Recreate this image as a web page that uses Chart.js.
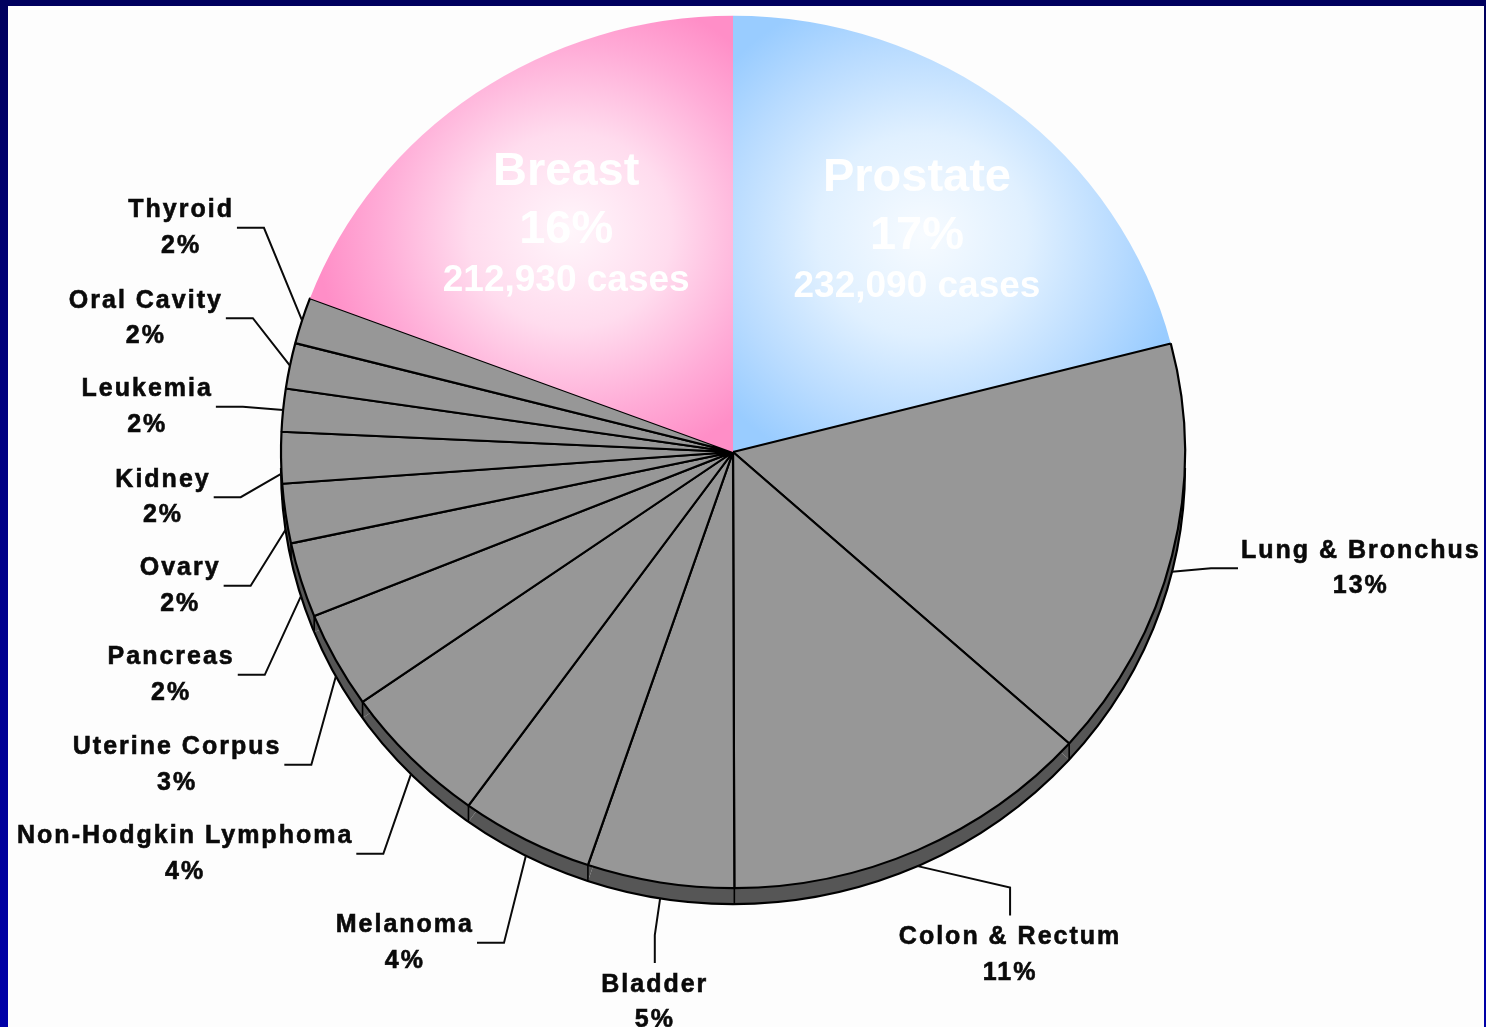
<!DOCTYPE html>
<html>
<head>
<meta charset="utf-8">
<script src="https://cdn.jsdelivr.net/npm/chart.js@4.4.1/dist/chart.umd.min.js"></script>
<style>
html,body{margin:0;padding:0;width:1486px;height:1027px;overflow:hidden;
  background:linear-gradient(to bottom,#00005e 0%,#000080 40%,#0000a8 100%);}
#wrap{position:absolute;left:8px;top:6px;width:1476px;height:1021px;background:#fdfdfd;}
</style>
</head>
<body>
<div id="wrap"><canvas id="c"></canvas></div>
<script>
// ---- data ----
const categories = ['Prostate','Lung & Bronchus','Colon & Rectum','Bladder','Melanoma',
  'Non-Hodgkin Lymphoma','Uterine Corpus','Pancreas','Ovary','Kidney','Leukemia',
  'Oral Cavity','Thyroid','Breast'];
const caseValues = [232090,173000,147000,58000,52500,59000,39500,30700,24300,21000,17500,18700,19000,212930];
const percentLabels = ['17%','13%','11%','5%','4%','4%','3%','2%','2%','2%','2%','2%','2%','16%'];
const highlightCategories = ['Breast','Prostate'];
const highlightCaseLabels = ['212,930 cases','232,090 cases'];

// ---- styling / geometry ----
const SY = 0.965, DEPTH = 16, RADIUS = 452;
const GRAY = '#979797', WALL = '#565656';
const gradSpec = {
  'Breast':   {dx:-0.36, dy:-0.49, rr:0.56, stops:[[0,'#fff6fb'],[0.4,'#ffdcee'],[0.75,'#ffacd7'],[1,'#ff8ec7']]},
  'Prostate': {dx: 0.42, dy:-0.48, rr:0.58, stops:[[0,'#f7fbff'],[0.4,'#e0f0ff'],[0.75,'#b8dbff'],[1,'#99ccff']]}
};
// label placement relative to pie centre (units of radius), side = where the leader leaves the text
const labelLayout = {
  'Thyroid':              {dx:-1.221, dy:-0.496, side:'right'},
  'Oral Cavity':          {dx:-1.299, dy:-0.296, side:'right'},
  'Leukemia':             {dx:-1.296, dy:-0.100, side:'right'},
  'Kidney':               {dx:-1.261, dy: 0.100, side:'right'},
  'Ovary':                {dx:-1.223, dy: 0.296, side:'right'},
  'Pancreas':             {dx:-1.243, dy: 0.493, side:'right'},
  'Uterine Corpus':       {dx:-1.230, dy: 0.692, side:'right'},
  'Non-Hodgkin Lymphoma': {dx:-1.212, dy: 0.889, side:'right'},
  'Melanoma':             {dx:-0.726, dy: 1.086, side:'right'},
  'Bladder':              {dx:-0.173, dy: 1.218, side:'top'},
  'Colon & Rectum':       {dx: 0.613, dy: 1.113, side:'top'},
  'Lung & Bronchus':      {dx: 1.389, dy: 0.257, side:'left'}
};
const insideLayout = {
  'Breast':   {dx:-0.369, dy:-0.491},
  'Prostate': {dx: 0.407, dy:-0.478}
};

function sliceColor(ctx) {
  const cat = categories[ctx.dataIndex];
  const spec = gradSpec[cat];
  if (!spec) return GRAY;
  const chart = ctx.chart, area = chart.chartArea;
  if (!area) return spec.stops[3][1];
  const cx = (area.left + area.right) / 2, cy = (area.top + area.bottom) / 2;
  const gx = cx + spec.dx * RADIUS, gy = cy + spec.dy * RADIUS / SY;
  const g = chart.ctx.createRadialGradient(gx, gy, 0, gx, gy, spec.rr * RADIUS);
  spec.stops.forEach(s => g.addColorStop(s[0], s[1]));
  return g;
}

const pie3d = {
  id: 'pie3d',
  beforeDatasetsDraw(chart) {
    const ctx = chart.ctx;
    const meta = chart.getDatasetMeta(0);
    const p0 = meta.data[0].getProps(['x','y','outerRadius'], true);
    ctx.save();
    ctx.translate(p0.x, p0.y); ctx.scale(1, SY); ctx.translate(-p0.x, -p0.y);
    const D = DEPTH / SY;
    meta.data.forEach(arc => {
      const p = arc.getProps(['x','y','startAngle','endAngle','outerRadius'], true);
      ctx.beginPath();
      ctx.moveTo(p.x, p.y + D);
      ctx.arc(p.x, p.y + D, p.outerRadius, p.startAngle, p.endAngle);
      ctx.closePath();
      ctx.fillStyle = WALL;
      ctx.fill();
    });
    ctx.strokeStyle = '#000';
    ctx.lineWidth = 2.2;
    ctx.beginPath();
    ctx.arc(p0.x, p0.y + D, p0.outerRadius, 0, Math.PI);
    ctx.stroke();
    ctx.lineWidth = 1.6;
    meta.data.forEach(arc => {
      const p = arc.getProps(['x','y','startAngle','outerRadius'], true);
      const s = Math.sin(p.startAngle), c = Math.cos(p.startAngle);
      if (s > 0.05) {
        ctx.beginPath();
        ctx.moveTo(p.x + p.outerRadius * c, p.y + p.outerRadius * s);
        ctx.lineTo(p.x + p.outerRadius * c, p.y + p.outerRadius * s + D);
        ctx.stroke();
      }
    });
  },
  afterDatasetsDraw(chart) {
    const ctx = chart.ctx;
    ctx.restore();
    const meta = chart.getDatasetMeta(0);
    ctx.save();
    ctx.font = 'bold 25px "Liberation Sans", Arial, sans-serif';
    ctx.letterSpacing = '2px';
    ctx.textAlign = 'center';
    ctx.textBaseline = 'middle';
    ctx.fillStyle = '#0a0a0a';
    ctx.strokeStyle = '#0a0a0a';
    meta.data.forEach((arc, i) => {
      const cat = categories[i];
      const L = labelLayout[cat];
      if (!L) return;
      const p = arc.getProps(['x','y','startAngle','endAngle','outerRadius'], true);
      const lx = p.x + L.dx * RADIUS, ly = p.y + L.dy * RADIUS;
      const nameY = ly - 17.5, pctY = ly + 18;
      ctx.lineWidth = 0.6;
      ctx.fillText(cat, lx, nameY);
      ctx.strokeText(cat, lx, nameY);
      ctx.fillText(percentLabels[i], lx, pctY);
      ctx.strokeText(percentLabels[i], lx, pctY);
      const w = Math.max(ctx.measureText(cat).width, ctx.measureText(percentLabels[i]).width);
      const m = (p.startAngle + p.endAngle) / 2;
      const sm = Math.sin(m);
      const px = p.x + p.outerRadius * Math.cos(m);
      const py = p.y + SY * p.outerRadius * sm + (sm > 0 ? DEPTH : 0);
      let s1, s2;
      if (L.side === 'right') { s1 = [lx + w/2 + 3, ly]; s2 = [lx + w/2 + 30, ly]; }
      else if (L.side === 'left') { s1 = [lx - w/2 - 3, ly]; s2 = [lx - w/2 - 30, ly]; }
      else { s1 = [lx, nameY - 22]; s2 = [lx, nameY - 50]; }
      ctx.lineWidth = 2;
      ctx.beginPath();
      ctx.moveTo(s1[0], s1[1]);
      ctx.lineTo(s2[0], s2[1]);
      ctx.lineTo(px, py);
      ctx.stroke();
    });
    ctx.letterSpacing = '0px';
    ctx.fillStyle = '#ffffff';
    highlightCategories.forEach((cat, k) => {
      const i = categories.indexOf(cat);
      const p = meta.data[i].getProps(['x','y'], true);
      const L = insideLayout[cat];
      const lx = p.x + L.dx * RADIUS, ly = p.y + L.dy * RADIUS;
      ctx.font = 'bold 47px "Liberation Sans", Arial, sans-serif';
      ctx.fillText(cat, lx, ly - 58);
      ctx.fillText(percentLabels[i], lx, ly);
      ctx.font = 'bold 37px "Liberation Sans", Arial, sans-serif';
      ctx.fillText(highlightCaseLabels[k], lx, ly + 51);
    });
    ctx.restore();
  }
};

new Chart(document.getElementById('c'), {
  type: 'pie',
  data: {
    labels: categories,
    datasets: [{
      data: caseValues,
      backgroundColor: sliceColor,
      borderColor: '#000',
      borderWidth: ctx => gradSpec[categories[ctx.dataIndex]] ? 0 : 2.2,
      radius: RADIUS,
      clip: false
    }]
  },
  options: {
    responsive: true,
    maintainAspectRatio: false,
    animation: false,
    layout: { padding: { left: 0, right: 26, top: 0, bottom: 129 } },
    plugins: { legend: { display: false }, tooltip: { enabled: false } },
    events: []
  },
  plugins: [pie3d]
});
</script>
</body>
</html>
